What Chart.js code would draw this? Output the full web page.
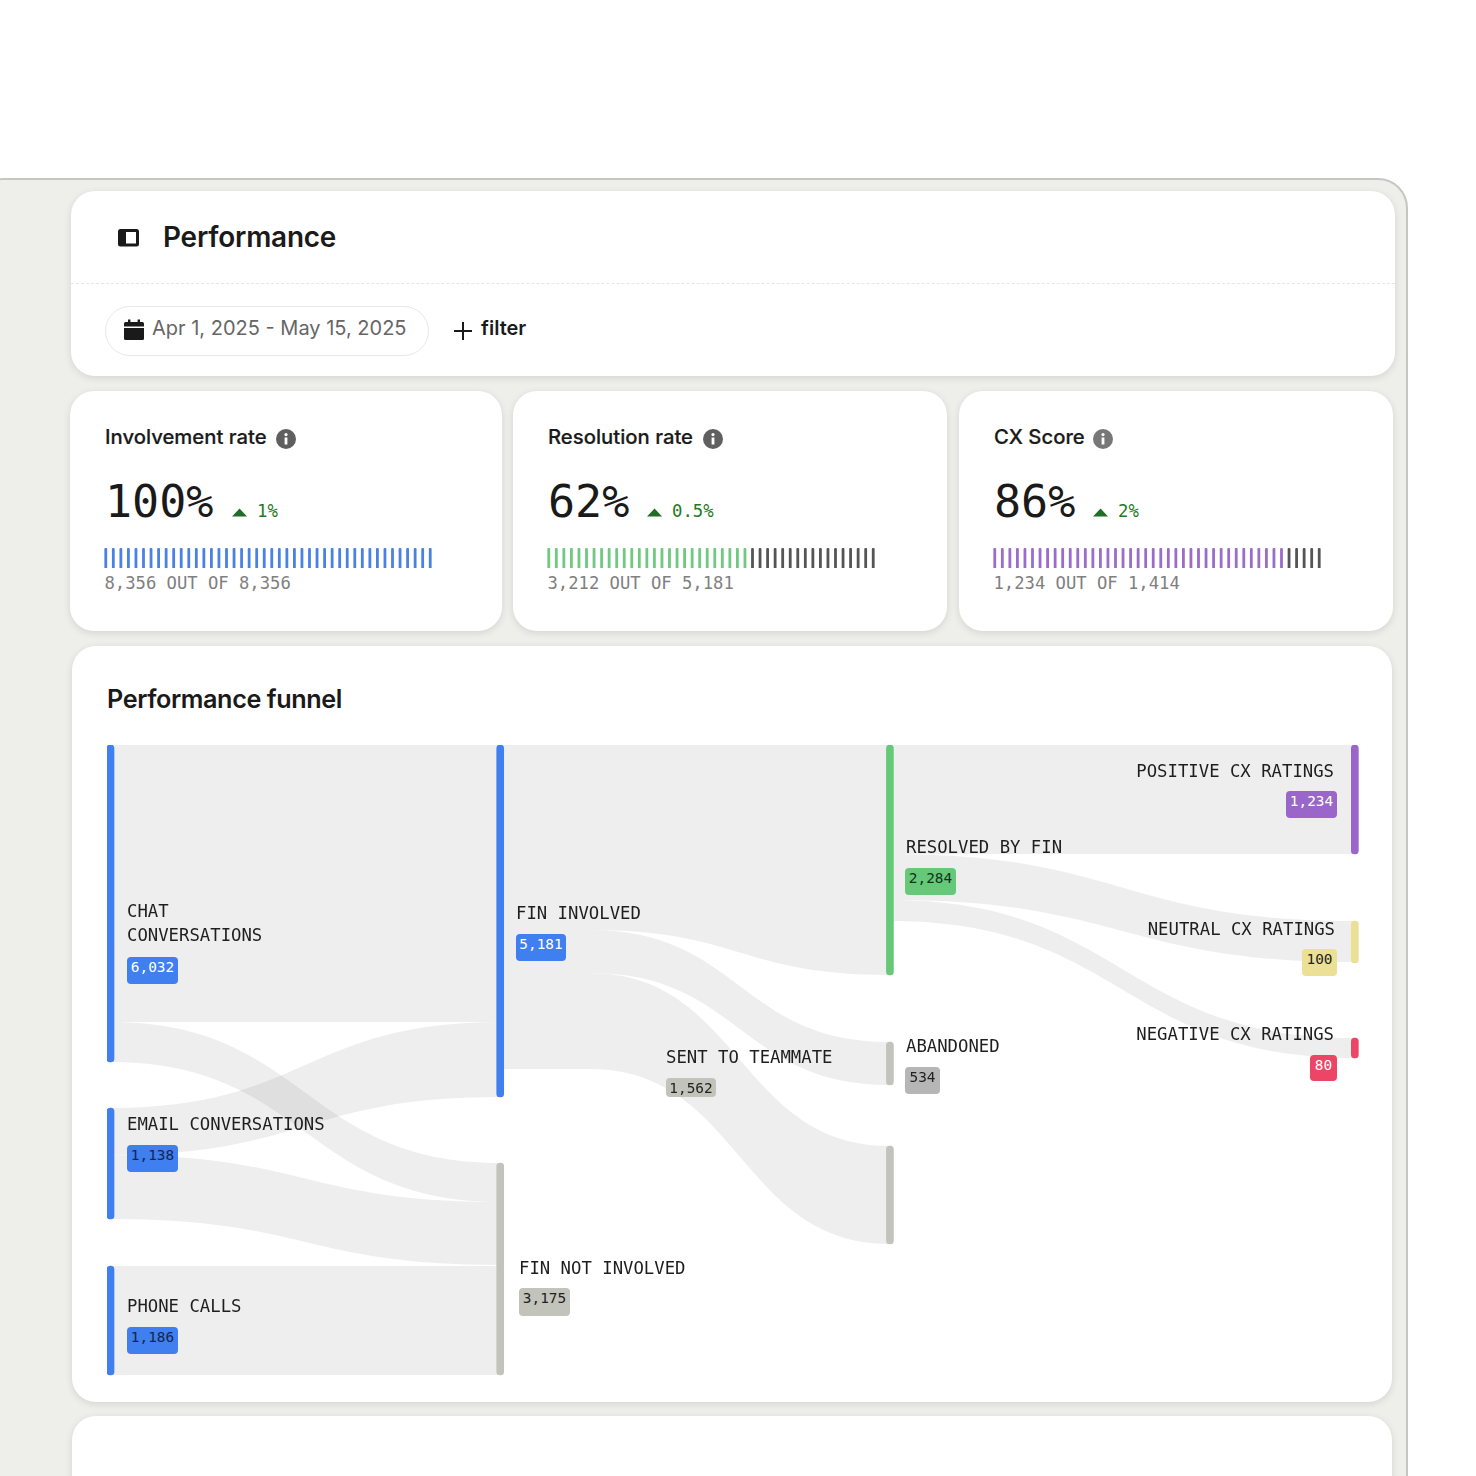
<!DOCTYPE html>
<html>
<head>
<meta charset="utf-8">
<title>Performance</title>
<script src="https://cdn.jsdelivr.net/npm/chart.js@4"></script>
<style>
html, body { margin: 0; padding: 0; background: #fff; }
body { position: relative; width: 1476px; height: 1476px; overflow: hidden; font-family: "Inter", sans-serif; color: #1a1a1a; }
.panel { position: absolute; left: -27px; top: 178px; width: 1435px; height: 1400px; background: #eeefeb; border: 2px solid #c6c6c1; border-radius: 30px; box-sizing: border-box; }
.card { position: absolute; background: #fff; border-radius: 24px; box-shadow: 0 2px 7px rgba(60,60,50,0.14); }
.abs { position: absolute; white-space: nowrap; line-height: 1; }
.mono { font-family: "DejaVu Sans Mono", monospace; }
.metric-title { font-size: 20.3px; font-weight: 500; -webkit-text-stroke: 0.2px #1a1a1a; transform: translateY(-50%); }
.metric-value { font-size: 45px; transform: translateY(-50%); }
.metric-delta { font-size: 17.3px; color: #1f7a24; transform: translateY(-50%); }
.metric-count { font-size: 17.2px; color: #808080; transform: translateY(-50%); }
.ticks { position: absolute; top: 548px; }
.node-label { position: absolute; font-family: "DejaVu Sans Mono", monospace; font-size: 17.3px; line-height: 24px; white-space: pre; color: #1e1e1e; }
.node-badge { position: absolute; border-radius: 4px; font-family: "DejaVu Sans Mono", monospace; font-size: 14.4px; line-height: 20px; box-sizing: border-box; text-align: center; }
#funnel { position: absolute; left: 107px; top: 745px; }
</style>
</head>
<body>
<div class="panel"></div>

<div class="card" style="left:71px;top:191px;width:1324px;height:185px"></div>
<svg class="abs" style="left:118px;top:229px" width="21" height="18" viewBox="0 0 21 18">
  <rect x="1.5" y="1.5" width="18" height="14.5" rx="1" fill="#fff" stroke="#1a1a1a" stroke-width="3"/>
  <rect x="1" y="1" width="7" height="15.5" fill="#1a1a1a"/>
</svg>
<div class="abs" style="left:163px;top:223.5px;font-size:27.9px;font-weight:600;letter-spacing:-0.2px">Performance</div>
<div class="abs" style="left:71px;top:283px;width:1324px;border-top:1px dashed #e6e6e6"></div>
<div class="abs" style="left:105px;top:306px;width:324px;height:50px;border:1.5px solid #e8e8e5;border-radius:25px;box-sizing:border-box"></div>
<svg class="abs" style="left:123px;top:319px" width="22" height="22" viewBox="0 0 22 22">
  <rect x="1" y="3" width="20" height="18" rx="1.5" fill="#1a1a1a"/>
  <rect x="1" y="7.5" width="20" height="1.5" fill="#fff"/>
  <rect x="5" y="0.5" width="2.4" height="5" fill="#1a1a1a"/>
  <rect x="14.6" y="0.5" width="2.4" height="5" fill="#1a1a1a"/>
</svg>
<div class="abs" style="left:152px;top:318px;font-size:20px;color:#666">Apr 1, 2025 - May 15, 2025</div>
<svg class="abs" style="left:454px;top:322px" width="18" height="18" viewBox="0 0 18 18">
  <path d="M9 0V18M0 9H18" stroke="#1a1a1a" stroke-width="2"/>
</svg>
<div class="abs" style="left:481px;top:318px;font-size:20px;font-weight:600">filter</div>

<div class="card" style="left:70px;top:391px;width:432px;height:240px"></div>
<div class="card" style="left:513px;top:391px;width:434px;height:240px"></div>
<div class="card" style="left:959px;top:391px;width:434px;height:240px"></div>
<div id="metrics"></div>
<canvas id="ticks0" class="ticks" style="left:102px" width="332" height="20"></canvas>
<canvas id="ticks1" class="ticks" style="left:545px" width="332" height="20"></canvas>
<canvas id="ticks2" class="ticks" style="left:991px" width="332" height="20"></canvas>

<div class="card" style="left:72px;top:646px;width:1320px;height:756px"></div>
<div class="abs" style="left:107px;top:687px;font-size:25.2px;font-weight:600;letter-spacing:-0.4px">Performance funnel</div>
<canvas id="funnel" width="1252" height="631"></canvas>
<div id="labels"></div>

<div class="card" style="left:72px;top:1416px;width:1320px;height:120px"></div>

<script>
// ---------------------------- Metric cards ----------------------------
const metricTitles = ['Involvement rate', 'Resolution rate', 'CX Score'];
const metricValues = ['100%', '62%', '86%'];
const metricDeltas = ['1%', '0.5%', '2%'];
const metricCounts = ['8,356 OUT OF 8,356', '3,212 OUT OF 5,181', '1,234 OUT OF 1,414'];
const tickTotal = 44;
const ticksFilled = [44, 27, 39];
const tickColors = ['#4a82e4', '#6fc981', '#9b6cc9'];
const tickRestColor = '#555555';

// ---------------------------- Funnel nodes ----------------------------
const nodeNames = ['CHAT\nCONVERSATIONS', 'EMAIL CONVERSATIONS', 'PHONE CALLS', 'FIN INVOLVED', 'FIN NOT INVOLVED',
    'RESOLVED BY FIN', 'ABANDONED', 'SENT TO TEAMMATE', 'POSITIVE CX RATINGS', 'NEUTRAL CX RATINGS', 'NEGATIVE CX RATINGS'];
const nodeValues = ['6,032', '1,138', '1,186', '5,181', '3,175', '2,284', '534', '1,562', '1,234', '100', '80'];
const nodeStage = [0, 0, 0, 1, 1, 2, 2, 2, 3.193, 3.193, 3.193];
const nodeBandTop = [0, 363, 521, 0, 418, 0, 297, 401, 0, 176, 293];
const nodeBandBottom = [317, 474, 630, 352, 630, 230, 340, 499, 109, 218, 313];
const nodeColors = ['#3f7ff0', '#3f7ff0', '#3f7ff0', '#3f7ff0', '#c2c3ba', '#66c97a', '#c2c3ba', '#c2c3ba', '#9b66c9', '#ecdf96', '#ec4566'];

// ---------------------------- Funnel flows ----------------------------
const flowFrom = [0, 0, 1, 1, 2, 3, 3, 3, 5, 5, 5];
const flowTo = [3, 4, 3, 4, 4, 5, 6, 7, 8, 9, 10];
const flowSourceTop = [0, 277, 363, 410, 521, 0, 185, 228, 0, 109, 155];
const flowSourceBottom = [277, 317, 410, 474, 630, 185, 228, 324, 109, 155, 176];
const flowTargetTop = [0, 418, 277, 457, 521, 0, 297, 401, 0, 176, 293];
const flowTargetBottom = [277, 457, 352, 520, 630, 230, 340, 499, 109, 217, 313];
// where a flow stops running level and starts to bend, on the stage axis
const flowBend = [null, null, null, null, null, 1.23, 1.23, 1.23, null, null, null];

// ---------------------------- Label placement (page pixels) ----------------------------
const labelLeft = [127, 127, 127, 516, 519, 906, 906, 666, null, null, null];
const labelRight = [null, null, null, null, null, null, null, null, 142, 141, 142];
const labelTop = [899, 1112, 1294, 901, 1256, 835, 1034, 1045, 759, 917, 1022];
const badgeLeft = [127, 127, 127, 516, 519, 905, 905, 666, 1286, 1302, 1310];
const badgeTop = [957, 1145, 1327, 934, 1288, 868, 1067, 1078, 791, 949, 1055];
const badgeWidth = [51, 51, 51, 50, 51, 51, 35, 50, 51, 35, 27];
const badgeHeight = [27, 27, 27, 27, 28, 27, 27, 19, 27, 27, 26];
const badgeColors = ['#3f7ff0', '#3f7ff0', '#3f7ff0', '#3f7ff0', '#c2c3ba', '#66c97a', '#b6b6b6', '#c2c3ba', '#9b66c9', '#ecdf96', '#ec4566'];
const badgeText = ['#fff', '#14264d', '#14264d', '#fff', '#222', '#12331a', '#222', '#222', '#fff', '#222', '#fff'];

Chart.defaults.animation = false;

function addDiv(parent, className, style, text) {
    const div = document.createElement('div');
    div.className = className;
    div.style.cssText = style;
    div.textContent = text;
    parent.appendChild(div);
}

function buildMetrics() {
    const box = document.getElementById('metrics');
    const cardLeft = [105, 548, 994];
    const valueWidth = [108, 80, 80];
    const infoShift = [181, 165, 109];
    metricTitles.forEach((title, i) => {
        const left = cardLeft[i];
        addDiv(box, 'abs metric-title', `left:${left}px;top:437px`, title);
        box.insertAdjacentHTML('beforeend', `<svg class="abs" style="left:${left + infoShift[i] - 10}px;top:429px" width="20" height="20" viewBox="0 0 20 20">
            <circle cx="10" cy="10" r="10" fill="${i === 2 ? '#777' : '#5f5f5f'}"/>
            <rect x="8.6" y="8.5" width="2.8" height="7" fill="#fff"/><circle cx="10" cy="5.6" r="1.6" fill="#fff"/></svg>`);
        addDiv(box, 'abs mono metric-value', `left:${left}px;top:501px`, metricValues[i]);
        const triLeft = left + valueWidth[i] + 19;
        box.insertAdjacentHTML('beforeend', `<svg class="abs" style="left:${triLeft}px;top:508px" width="15" height="9" viewBox="0 0 15 9">
            <path d="M7.5 0.5L15 8.5H0Z" fill="#1f6e24"/></svg>`);
        addDiv(box, 'abs mono metric-delta', `left:${triLeft + 25}px;top:512px`, metricDeltas[i]);
        addDiv(box, 'abs mono metric-count', `left:${left - 0.5}px;top:584px`, metricCounts[i]);
    });
}

function buildLabels() {
    const box = document.getElementById('labels');
    nodeNames.forEach((name, i) => {
        const side = labelLeft[i] !== null ? `left:${labelLeft[i]}px` : `right:${labelRight[i]}px`;
        addDiv(box, 'node-label', `${side};top:${labelTop[i]}px`, name);
        addDiv(box, 'node-badge', `left:${badgeLeft[i]}px;top:${badgeTop[i]}px;width:${badgeWidth[i]}px;height:${badgeHeight[i]}px;background:${badgeColors[i]};color:${badgeText[i]}`, nodeValues[i]);
    });
}

function drawTicks(i) {
    const labels = [];
    const values = [];
    const colors = [];
    for (let t = 0; t < tickTotal; t++) {
        labels.push(t + 1);
        values.push(1);
        colors.push(t < ticksFilled[i] ? tickColors[i] : tickRestColor);
    }
    new Chart(document.getElementById('ticks' + i), {
        type: 'bar',
        data: { labels: labels, datasets: [{ data: values, backgroundColor: colors, barThickness: 2.8, inflateAmount: 0, borderRadius: 1 }] },
        options: {
            responsive: false,
            layout: { padding: 0 },
            plugins: { legend: { display: false }, tooltip: { enabled: false } },
            scales: {
                x: { display: false },
                y: { display: false, min: 0, max: 1 }
            }
        }
    });
}

// Each flow is a pair of edge lines, the upper one filled down to the lower one.
function flowEdge(f, start, end, fill) {
    const points = [{ x: nodeStage[flowFrom[f]], y: start }];
    if (flowBend[f] !== null) {
        points.push({ x: flowBend[f], y: start });
    }
    points.push({ x: nodeStage[flowTo[f]], y: end });
    return {
        type: 'line',
        order: 2,
        data: points,
        cubicInterpolationMode: 'monotone',
        borderWidth: 0,
        pointRadius: 0,
        backgroundColor: 'rgba(0, 0, 0, 0.066)',
        fill: fill
    };
}

// Makes the edges leave and enter their nodes flat, like a sankey link.
const sankeyCurves = {
    id: 'sankeyCurves',
    afterDatasetsUpdate(chart) {
        chart.getSortedVisibleDatasetMetas().forEach(meta => {
            if (meta.type !== 'line') return;
            meta.dataset.updateControlPoints(chart.chartArea);
            const points = meta.data;
            if (points.length === 3) {
                // level run up to the bend
                points[0].cp2x = points[0].x;
                points[0].cp2y = points[0].y;
                points[1].cp1x = points[1].x;
                points[1].cp1y = points[1].y;
            }
            const start = points[points.length - 2];
            const end = points[points.length - 1];
            const midX = (start.x + end.x) / 2;
            start.cp2x = midX;
            start.cp2y = start.y;
            end.cp1x = midX;
            end.cp1y = end.y;
        });
    }
};

function drawFunnel() {
    const datasets = [{
        type: 'bar',
        order: 1,
        data: nodeStage.map((stage, i) => ({ x: stage, y: [nodeBandTop[i], nodeBandBottom[i]] })),
        backgroundColor: nodeColors,
        barThickness: 7,
        borderRadius: 3.5,
        borderSkipped: false
    }];
    flowFrom.forEach((from, f) => {
        datasets.push(flowEdge(f, flowSourceTop[f], flowTargetTop[f], '+1'));
        datasets.push(flowEdge(f, flowSourceBottom[f], flowTargetBottom[f], false));
    });
    new Chart(document.getElementById('funnel'), {
        type: 'bar',
        data: { datasets: datasets },
        plugins: [sankeyCurves],
        options: {
            responsive: false,
            layout: { padding: 0 },
            plugins: { legend: { display: false }, tooltip: { enabled: false } },
            scales: {
                x: { type: 'linear', display: false, offset: false, min: -0.009, max: 3.2037 },
                y: { type: 'linear', display: false, reverse: true, min: 0, max: 631 }
            }
        }
    });
}

buildMetrics();
buildLabels();
[0, 1, 2].forEach(drawTicks);
drawFunnel();
</script>
</body>
</html>
